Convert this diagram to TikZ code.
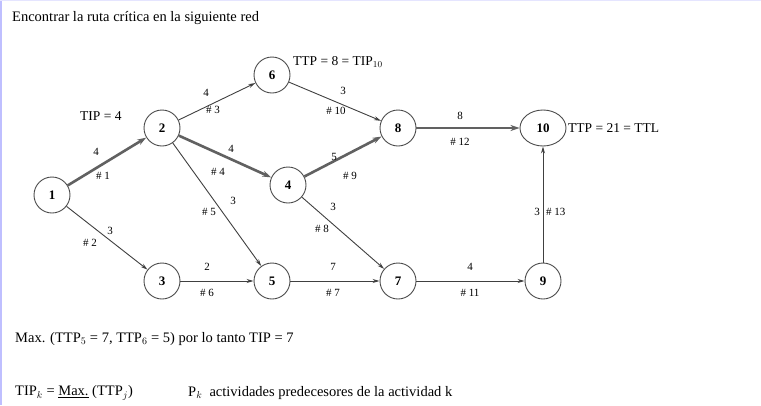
\documentclass[tikz,border=0pt]{standalone}
\usepackage{fontspec}
\setmainfont{Liberation Serif}
\usetikzlibrary{arrows.meta,shapes.geometric}
\begin{document}
\begin{tikzpicture}[x=1pt,y=-1pt,
  ev/.style={circle,draw=black!70,line width=0.9pt,minimum size=36pt,inner sep=0pt,font=\fontsize{13}{13}\selectfont\bfseries},
  evend/.style={ellipse,draw=black!70,line width=0.9pt,minimum width=46pt,minimum height=36pt,inner sep=0pt,font=\fontsize{13}{13}\selectfont\bfseries},
  act/.style={draw=black!75,line width=0.9pt,-{Stealth[length=7pt,width=4pt]}},
  crit/.style={draw=black!62,line width=2.6pt,-{Stealth[length=9pt,width=6pt]}},
  lab/.style={font=\fontsize{11}{11}\selectfont,inner sep=1pt},
  txt/.style={font=\fontsize{14.5}{15}\selectfont,inner sep=0pt,anchor=west},
  note/.style={font=\fontsize{13.5}{14}\selectfont,inner sep=0pt,anchor=west}]
\useasboundingbox (0,0) rectangle (761,405);
\fill[white] (0,0) rectangle (761,405);
\draw[blue!25,line width=2pt] (1,0) -- (1,405);
\draw[blue!10,line width=1pt] (0,0.5) -- (761,0.5);

\node[txt] (title) at (12,18) {Encontrar la ruta crítica en la siguiente red};

\node[ev] (n1) at (52,195) {1};
\node[ev] (n2) at (162,128) {2};
\node[ev] (n6) at (272,75) {6};
\node[ev] (n8) at (398,128) {8};
\node[evend] (n10) at (543,128) {10};
\node[ev] (n4) at (288,185) {4};
\node[ev] (n3) at (162,281) {3};
\node[ev] (n5) at (272,281) {5};
\node[ev] (n7) at (398,281) {7};
\node[ev] (n9) at (543,281) {9};

\draw[crit] (n1) -- (n2);
\draw[crit] (n2) -- (n4);
\draw[crit] (n4) -- (n8);
\draw[crit] (n8) -- (n10);
\draw[act] (n2) -- (n6);
\draw[act] (n2) -- (n5);
\draw[act] (n1) -- (n3);
\draw[act] (n3) -- (n5);
\draw[act] (n5) -- (n7);
\draw[act] (n4) -- (n7);
\draw[act] (n6) -- (n8);
\draw[act] (n7) -- (n9);
\draw[act] (n9) -- (n10);

% edge labels
\node[lab] (l1a) at (96,152) {4};
\node[lab] (l1b) at (103,176) {\# 1};
\node[lab] (l3a) at (206,93) {4};
\node[lab] (l3b) at (213,110) {\# 3};
\node[lab] (l4a) at (231,149) {4};
\node[lab] (l4b) at (218,172) {\# 4};
\node[lab] (l5a) at (233,201) {3};
\node[lab] (l5b) at (209,212) {\# 5};
\node[lab] (l2a) at (110,231) {3};
\node[lab] (l2b) at (90,243) {\# 2};
\node[lab] (l6a) at (207,267) {2};
\node[lab] (l6b) at (207,293) {\# 6};
\node[lab] (l7a) at (333,267) {7};
\node[lab] (l7b) at (333,293) {\# 7};
\node[lab] (l9a) at (334,157) {5};
\node[lab] (l9b) at (350,176) {\# 9};
\node[lab] (l8a) at (333,207) {3};
\node[lab] (l8b) at (322,229) {\# 8};
\node[lab] (l10a) at (343,91) {3};
\node[lab] (l10b) at (336,111) {\# 10};
\node[lab] (l11a) at (470,267) {4};
\node[lab] (l11b) at (470,293) {\# 11};
\node[lab] (l12a) at (460,116) {8};
\node[lab] (l12b) at (460,142) {\# 12};
\node[lab,anchor=east] (l13a) at (541,212) {3};
\node[lab,anchor=west] (l13b) at (545,212) {\# 13};

\node[note] (tip2) at (80,116) {TIP = 4};
\node[note] (ttp6) at (293,62) {TTP = 8 = TIP$_{10}$};
\node[note] (ttl) at (568,128) {TTP = 21 = TTL};

\node[txt] (maxl) at (15,339) {Max. (TTP$_5$ = 7, TTP$_6$ = 5) por lo tanto TIP = 7};
\node[txt] (form) at (15,393) {TIP$_k$ = \underline{Max.} (TTP$_j$)};
\node[txt] (pk) at (188,393) {P$_k$\enspace actividades predecesores de la actividad k};
\end{tikzpicture}
\end{document}
